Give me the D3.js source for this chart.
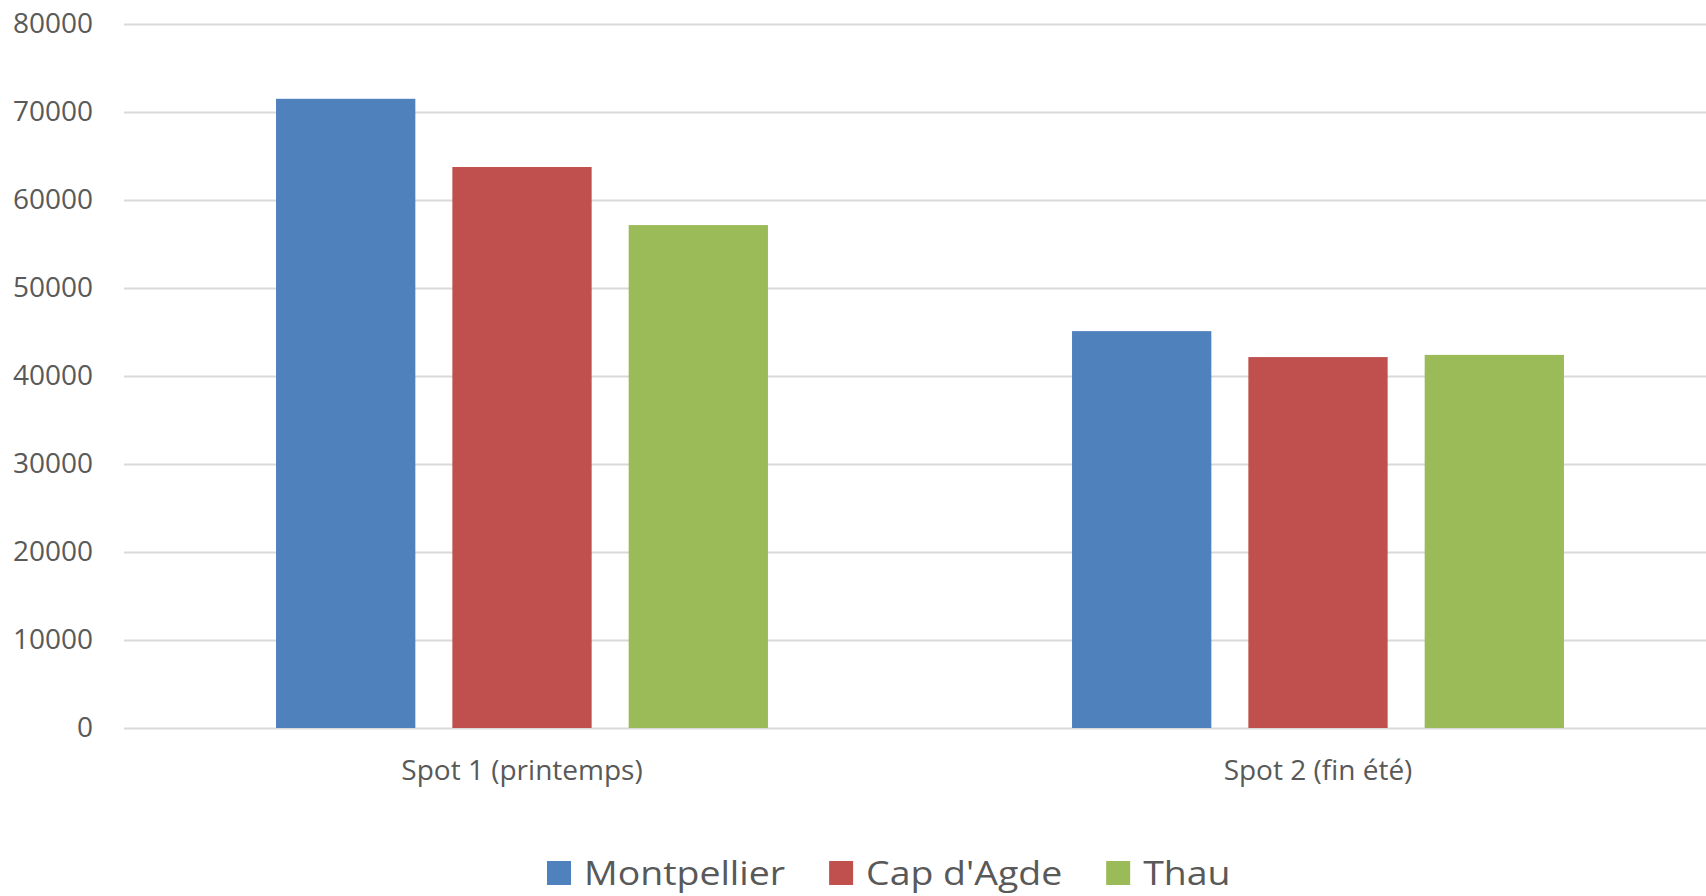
<!DOCTYPE html>
<html>
<head>
<meta charset="utf-8">
<script src="https://cdn.jsdelivr.net/npm/d3@7"></script>
<style>
  body { margin: 0; background: #fff; }
  svg { display: block; font-family: "Open Sans", sans-serif; }
</style>
</head>
<body>
<svg width="1706" height="896"></svg>
<script>
const categories = ["Spot 1 (printemps)", "Spot 2 (fin été)"];
const seriesNames = ["Montpellier", "Cap d'Agde", "Thau"];
const montpellier = [71500, 45100];
const capAgde = [63750, 42150];
const thau = [57150, 42400];
const yTicks = [0, 10000, 20000, 30000, 40000, 50000, 60000, 70000, 80000];
const colors = ["#4f81bd", "#c0504d", "#9bbb59"];

const series = [montpellier, capAgde, thau];
const svg = d3.select("svg");
const plotLeft = 124, plotRight = 1716, plotTop = 24, plotBottom = 728;

const y = d3.scaleLinear().domain([0, 80000]).range([plotBottom, plotTop]);

const x0 = d3.scaleBand()
    .domain(categories)
    .range([plotLeft, plotRight])
    .paddingInner(0.382)
    .paddingOuter(0.191);

const x1 = d3.scaleBand()
    .domain(seriesNames)
    .range([0, x0.bandwidth()])
    .paddingInner(0.21);

// gridlines
const grid = svg.append("g")
    .attr("transform", `translate(${plotLeft},0)`)
    .call(d3.axisLeft(y).tickValues(yTicks).tickSize(-(plotRight - plotLeft)).tickFormat(""));
grid.select(".domain").remove();
grid.selectAll("line").attr("stroke", "#d9d9d9").attr("stroke-width", 2);

// y labels
const yAxis = svg.append("g")
    .attr("transform", `translate(${plotLeft},0)`)
    .call(d3.axisLeft(y).tickValues(yTicks).tickSize(0).tickPadding(31).tickFormat(d3.format("d")));
yAxis.select(".domain").remove();
yAxis.attr("font-size", 28).attr("font-family", null);
yAxis.selectAll("text").attr("fill", "#595959");

// bars
const groups = svg.append("g")
    .selectAll("g")
    .data(categories)
    .enter().append("g")
    .attr("transform", d => `translate(${x0(d)},0)`);

groups.selectAll("rect")
    .data((d, i) => seriesNames.map((s, j) => ({ name: s, value: series[j][i], c: colors[j] })))
    .enter().append("rect")
    .attr("x", d => x1(d.name))
    .attr("width", x1.bandwidth())
    .attr("y", d => y(d.value))
    .attr("height", d => y(0) - y(d.value))
    .attr("fill", d => d.c);

// x labels
const xAxis = svg.append("g")
    .attr("transform", `translate(0,${plotBottom})`)
    .call(d3.axisBottom(x0).tickSize(0).tickPadding(32));
xAxis.select(".domain").remove();
xAxis.attr("font-size", 28).attr("font-family", null);
xAxis.selectAll("text").attr("fill", "#595959");

// legend
const sx = 1.135;
const legend = svg.append("g").attr("transform", "translate(547,885)");
let lx = 0;
seriesNames.forEach((name, i) => {
    const item = legend.append("g").attr("transform", `translate(${lx},0)`);
    item.append("rect")
        .attr("x", 0).attr("y", -24)
        .attr("width", 24).attr("height", 24)
        .attr("fill", colors[i]);
    const t = item.append("text")
        .attr("x", 37 / sx)
        .attr("transform", `scale(${sx},1)`)
        .attr("font-size", 33)
        .attr("fill", "#595959")
        .text(name);
    lx += 37 + t.node().getComputedTextLength() * sx + 44;
});
</script>
</body>
</html>
